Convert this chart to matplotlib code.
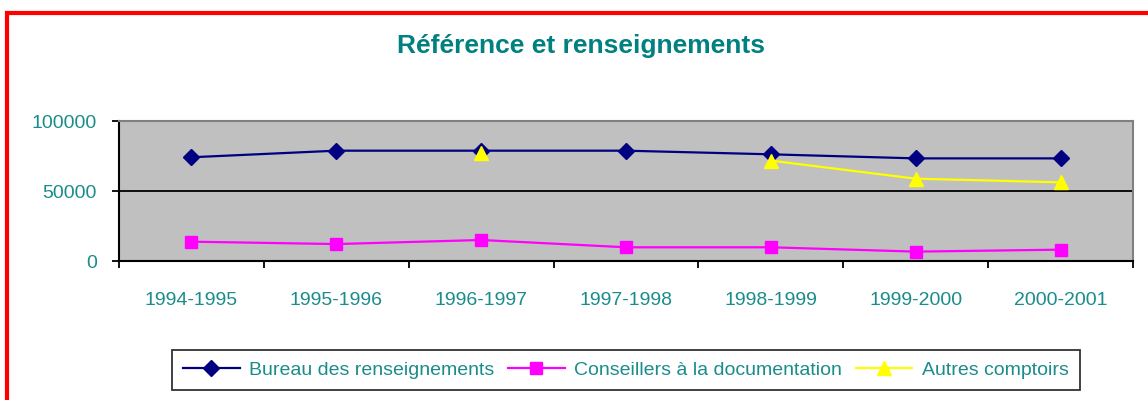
import numpy as np
import matplotlib
matplotlib.use('Agg')
import matplotlib.pyplot as plt
from matplotlib.patches import Rectangle

# données
annees = ['1994-1995', '1995-1996', '1996-1997', '1997-1998',
          '1998-1999', '1999-2000', '2000-2001']
bureau = [74100, 78800, 78800, 78800, 76200, 73300, 73300]
conseillers = [13800, 12100, 15000, 9800, 9800, 6700, 8100]
autres = [np.nan, np.nan, 77000, np.nan, 71700, 58800, 56200]

teal = '#008080'
label_teal = '#1a8c8c'

plt.rcParams['font.family'] = ['Liberation Sans', 'DejaVu Sans']

fig = plt.figure(figsize=(11.48, 4.0), dpi=100)
ax = fig.add_axes([119 / 1148, 1 - 261 / 400, (1133 - 119) / 1148, (261 - 121) / 400])

x = np.arange(len(annees))
ax.plot(x, bureau, color='#000080', lw=1.6, marker='D', ms=8.5,
        label='Bureau des renseignements')
ax.plot(x, conseillers, color='#FF00FF', lw=1.6, marker='s', ms=8,
        label='Conseillers à la documentation')
ax.plot(x, autres, color='#FFFF00', lw=1.6, marker='^', ms=9.5,
        label='Autres comptoirs')

ax.set_facecolor('#C0C0C0')
ax.set_xlim(-0.5, len(annees) - 0.5)
ax.set_ylim(0, 100000)
ax.set_yticks([0, 50000, 100000])
ax.set_yticklabels(['0', '50000', '100000'])
ax.yaxis.grid(True, color='black', lw=1.3)
ax.set_axisbelow(True)

ax.set_xticks(x)
ax.set_xticklabels(annees)
ax.set_xticks(np.arange(-0.5, len(annees)), minor=True)
ax.tick_params(axis='x', which='major', length=0, pad=22, labelsize=14, labelcolor=label_teal)
ax.tick_params(axis='x', which='minor', length=5, width=1.3, direction='out')
ax.tick_params(axis='y', length=5, width=1.3, pad=11, labelsize=14, labelcolor=label_teal)

for s in ['left', 'bottom']:
    ax.spines[s].set_color('black')
    ax.spines[s].set_linewidth(1.5)
for s in ['top', 'right']:
    ax.spines[s].set_color('#808080')
    ax.spines[s].set_linewidth(1.5)

fig.text(0.506, 0.885, 'Référence et renseignements', ha='center', va='center',
         fontsize=19, fontweight='bold', color=teal)

leg = fig.legend(loc='center', bbox_to_anchor=(626 / 1148, 1 - 370 / 400), ncol=3,
                 frameon=True, fancybox=False, edgecolor='black', fontsize=14,
                 handlelength=2.9, handletextpad=0.5, columnspacing=0.7,
                 borderpad=0.6)
leg.get_frame().set_linewidth(1.3)
for t in leg.get_texts():
    t.set_color(label_teal)

# cadre rouge
fig.patches.append(Rectangle((7 / 1148, -0.2), 1.2, 1.2 - 13 / 400,
                             transform=fig.transFigure, fill=False,
                             edgecolor='red', lw=3))

fig.savefig('out.png', dpi=100)
